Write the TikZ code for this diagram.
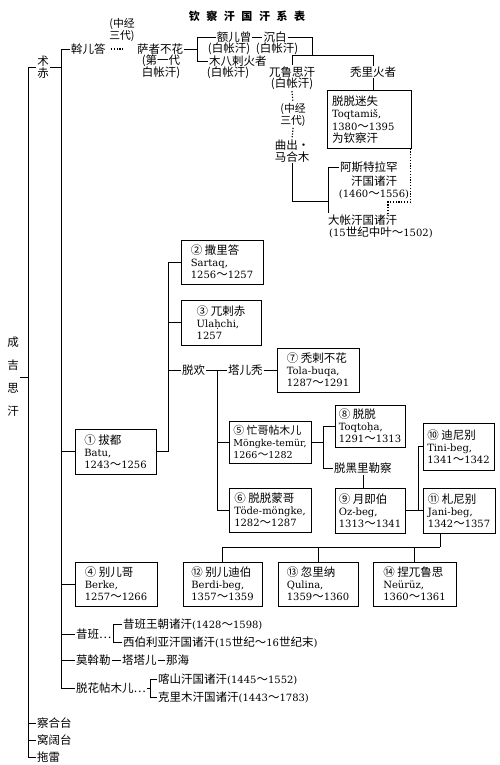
\documentclass[tikz,border=0pt]{standalone}
\usepackage{fontspec}
\setmainfont{DejaVu Serif}
\newfontfamily\cjk[Scale=1.15]{Noto Sans CJK SC}
\newcommand\zh[1]{{\cjk #1}}
\newcommand\wav{{\cjk ～}}
\newcommand\tgap{\hspace{6.5pt}}
\tikzset{
 txt/.style={inner sep=1pt, font=\fontsize{10}{12}\selectfont, align=center},
 bx/.style={draw, line width=1pt, inner sep=2pt, align=left, font=\fontsize{10}{12}\selectfont},
 ln/.style={line width=0.9pt},
 dl/.style={line width=1.2pt, dash pattern=on 1.2pt off 1.6pt},
}
\begin{document}
\begin{tikzpicture}[x=1pt,y=-1pt]
\useasboundingbox (0,0) rectangle (500,765);
\fill[white] (0,0) rectangle (500,765);
% title
\node[txt, font=\fontsize{9.6}{12}\selectfont\bfseries] (title) at (247,16) {\zh{钦\tgap 察\tgap 汗\tgap 国\tgap 汗\tgap 系\tgap 表}};
% left column
\node[txt, font=\fontsize{10}{23}\selectfont\cjk] (cjsh) at (13,377) {成\\吉\\思\\汗};
\node[txt, font=\fontsize{10}{12}\selectfont\cjk] (zc) at (43,67) {术\\赤};
\node[txt, anchor=west] (wed) at (70,49) {\zh{斡儿答}};
\node[txt, font=\fontsize{9.4}{10.5}\selectfont\cjk] (zj1) at (122,30) {(中经\\三代)};
\node[txt] (ssbh) at (160,49) {\zh{萨者不花}};
\node[txt, font=\fontsize{10}{12}\selectfont\cjk] (ssbh2) at (161,67) {(第一代\\白帐汗)};
\node[txt] (eez) at (234,37) {\zh{额儿曾}};
\node[txt] (cb) at (275,37) {\zh{沉白}};
\node[txt] (eez2) at (229,49) {\zh{(白帐汗)}};
\node[txt] (cb2) at (277,49) {\zh{(白帐汗)}};
\node[txt, anchor=west] (mblhz) at (208,61) {\zh{木八剌火者}};
\node[txt] (mblhz2) at (228,73) {\zh{(白帐汗)}};
\node[txt] (wlsh) at (292,72) {\zh{兀鲁思汗}};
\node[txt] (wlsh2) at (292,84) {\zh{(白帐汗)}};
\node[txt] (tlhz) at (373,72) {\zh{秃里火者}};
\node[bx, font=\fontsize{10}{12.5}\selectfont, text width=74, minimum width=84, minimum height=57] (tq) at (369,119.5) {\zh{脱脱迷失}\\Toqtamiš,\\1380\wav 1395\\\zh{为钦察汗}};
\node[txt, font=\fontsize{9.4}{11}\selectfont\cjk] (zj2) at (293,115) {(中经\\三代)};
\node[txt, align=left, font=\fontsize{10}{12}\selectfont\cjk] (qcm) at (292,151) {曲出·\\马合木};
\node[txt, anchor=west] (ast1) at (339,167) {\zh{阿斯特拉罕}};
\node[txt] (ast2) at (374,187) {\zh{汗国诸汗}\\(1460\wav 1556)};
\node[txt, anchor=west] (dz) at (327,220) {\zh{大帐汗国诸汗}};
\node[txt, anchor=west] (dz2) at (328,232) {(15\zh{世纪中叶～}1502)};
% boxes
\node[bx, minimum width=81, minimum height=45] (b1) at (115.5,451.5) {\zh{① 拔都}\\Batu,\\1243\wav 1256};
\node[bx, minimum width=82, minimum height=44] (b2) at (222,262) {\zh{② 撒里答}\\Sartaq,\\1256\wav 1257};
\node[bx, minimum width=80, minimum height=45] (b3) at (221,322.5) {\zh{③ 兀剌赤}\\Ulaḥchi,\\1257};
\node[bx, minimum width=82, minimum height=44] (b7) at (318,370) {\zh{⑦ 秃剌不花}\\Tola-buqa,\\1287\wav 1291};
\node[bx, minimum width=82, minimum height=42, font=\fontsize{9.5}{12}\selectfont] (b5) at (270,442) {\zh{⑤ 忙哥帖木儿}\\Möngke-temür,\\1266\wav 1282};
\node[bx, minimum width=82, minimum height=44] (b6) at (270,510) {\zh{⑥ 脱脱蒙哥}\\Töde-möngke,\\1282\wav 1287};
\node[bx, minimum width=70, minimum height=42] (b8) at (370,426) {\zh{⑧ 脱脱}\\Toqtoḥa,\\1291\wav 1313};
\node[bx, minimum width=70, minimum height=45] (b9) at (370,510.5) {\zh{⑨ 月即伯}\\Oz-beg,\\1313\wav 1341};
\node[bx, minimum width=71, minimum height=47] (b10) at (458.5,446.5) {\zh{⑩ 迪尼别}\\Tini-beg,\\1341\wav 1342};
\node[bx, minimum width=72, minimum height=45] (b11) at (459,510.5) {\zh{⑪ 札尼别}\\Jani-beg,\\1342\wav 1357};
\node[bx, minimum width=82, minimum height=44] (b4) at (116,584) {\zh{④ 别儿哥}\\Berke,\\1257\wav 1266};
\node[bx, minimum width=79, minimum height=44] (b12) at (222.5,584) {\zh{⑫ 别儿迪伯}\\Berdi-beg,\\1357\wav 1359};
\node[bx, minimum width=80, minimum height=44] (b13) at (318,584) {\zh{⑬ 忽里纳}\\Qulina,\\1359\wav 1360};
\node[bx, minimum width=83, minimum height=44] (b14) at (414.5,584) {\zh{⑭ 捏兀鲁思}\\Neürüz,\\1360\wav 1361};
% other text
\node[txt, anchor=west] (te) at (181,370) {\zh{脱欢}};
\node[txt, anchor=west] (ter) at (227,370) {\zh{塔儿秃}};
\node[txt, anchor=west] (tld) at (333,468) {\zh{脱黑里勒察}};
\node[txt, anchor=west] (xb) at (75,634) {\zh{昔班…}};
\node[txt, anchor=west] (xb1) at (122,624) {\zh{昔班王朝诸汗}(1428\wav 1598)};
\node[txt, anchor=west] (xb2) at (122,642) {\zh{西伯利亚汗国诸汗}(15\zh{世纪～}16\zh{世纪末})};
\node[txt, anchor=west] (mwl) at (75,660) {\zh{莫斡勒}};
\node[txt, anchor=west] (ttr) at (121,660) {\zh{塔塔儿}};
\node[txt, anchor=west] (nh) at (165,660) {\zh{那海}};
\node[txt, anchor=west] (thm) at (75,688) {\zh{脱花帖木儿…}};
\node[txt, anchor=west] (ks) at (157,679) {\zh{喀山汗国诸汗}(1445\wav 1552)};
\node[txt, anchor=west] (klm) at (157,697) {\zh{克里木汗国诸汗}(1443\wav 1783)};
\node[txt, anchor=west] (chg) at (36,723) {\zh{察合台}};
\node[txt, anchor=west] (wkt) at (36,740) {\zh{窝阔台}};
\node[txt, anchor=west] (tl) at (36,757) {\zh{拖雷}};
% helper coordinates
\coordinate (mv) at (28,0);
\coordinate (v2) at (61,0);
\coordinate (v3) at (168,0);
\coordinate (v4) at (217,0);
\coordinate (v5) at (323,0);
\coordinate (v6) at (418,0);
\coordinate (br1) at (197,0);
\coordinate (br2) at (113,0);
\coordinate (br3) at (150,0);
\coordinate (j1) at (312,55);
\coordinate (hb) at (0,55);
\coordinate (j2) at (328,201);
\coordinate (dj) at (388,202);
\coordinate (j11) at (440,547);
% connectors
\draw[ln] (cjsh.east) -- (cjsh.east -| mv);
\draw[ln] (zc.west) -- (zc.west -| mv) |- (tl.west);
\draw[ln] (chg.west) -- (chg.west -| mv);
\draw[ln] (wkt.west) -- (wkt.west -| mv);
\draw[ln] (zc.east) -- (zc.east -| v2);
\draw[ln] (wed.west) -- (wed.west -| v2) |- (thm.west);
\draw[ln] (b1.west) -- (b1.west -| v2);
\draw[ln] (b4.west) -- (b4.west -| v2);
\draw[ln] (xb.west) -- (xb.west -| v2);
\draw[ln] (mwl.west) -- (mwl.west -| v2);
\draw[dl] ([xshift=4pt]wed.east) -- ([xshift=-13pt]ssbh.west);
\draw[ln] (ssbh.east) -- (ssbh.east -| br1);
\draw[ln] (eez.west) -- (eez.west -| br1) |- (mblhz.west);
\draw[ln] (eez.east) -- (cb.west);
\draw[ln] (cb.east) -| (j1);
\draw[ln] (wlsh.north) -- (wlsh.north |- hb) -- (tlhz.north |- hb) -- (tlhz.north);
\draw[ln] (tlhz.south) -- (tlhz.south |- tq.north);
\draw[dl] (wlsh2.south) -- (zj2.north);
\draw[dl] (zj2.south) -- (qcm.north);
\draw[ln] (qcm.south) |- (j2);
\draw[ln] (ast1.west) -| (j2 |- dz.north);
\draw[dl] ([xshift=-1pt]tq.south east) |- (dj) -- (dj |- dz.north);
\draw[ln] (b2.west) -- (b2.west -| v3) |- (b1.east);
\draw[ln] (b3.west) -- (b3.west -| v3);
\draw[ln] (te.west) -- (te.west -| v3);
\draw[ln] (te.east) -- (ter.west);
\draw[ln] (te.east -| v4) |- (b6.west);
\draw[ln] (b5.west) -- (b5.west -| v4);
\draw[ln] (ter.east) -- (b7.west);
\draw[ln] (b8.west) -- (b8.west -| v5) |- (tld.west);
\draw[ln] (b5.east) -- (b5.east -| v5);
\draw[ln] (tld.south) -- (tld.south |- b9.north);
\draw[ln] (b9.east) -- (b11.west);
\draw[ln] (b10.west) -- (b10.west -| v6) -- (v6 |- b11.west);
\draw[ln] (j11 |- b11.south) -- (j11);
\draw[ln] (b12.north) |- (j11);
\draw[ln] (b13.north) -- (b13.north |- j11);
\draw[ln] (b14.north) -- (b14.north |- j11);
\draw[ln] (xb.east) -- (xb.east -| br2);
\draw[ln] (xb1.west) -- (xb1.west -| br2) |- (xb2.west);
\draw[ln] (mwl.east) -- (ttr.west);
\draw[ln] (ttr.east) -- (nh.west);
\draw[ln] (thm.east) -- (thm.east -| br3);
\draw[ln] (ks.west) -- (ks.west -| br3) |- (klm.west);
\end{tikzpicture}
\end{document}
